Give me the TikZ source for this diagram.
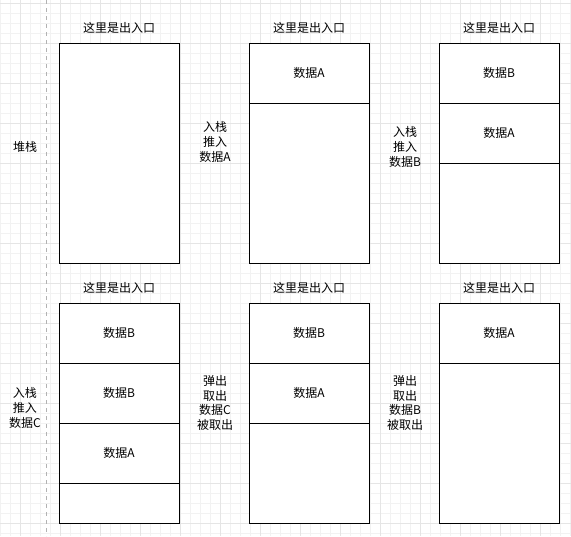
\documentclass[tikz,border=0pt]{standalone}
\usepackage{fontspec}
\setmainfont{Noto Sans CJK SC}
\usetikzlibrary{positioning}
\definecolor{gridminor}{HTML}{F2F2F2}
\definecolor{gridmajor}{HTML}{E5E5E5}

\begin{document}
\begin{tikzpicture}[x=0.75pt,y=-0.75pt,font=\fontsize{9}{11}\selectfont]
  \tikzstyle{stack}=[draw,fill=white,line width=0.75pt,minimum width=90pt,minimum height=165pt,inner sep=0pt,outer sep=0pt]
  \tikzstyle{cell}=[draw,fill=white,line width=0.75pt,minimum width=90pt,minimum height=45pt,inner sep=0pt,outer sep=0pt]
  \tikzstyle{op}=[align=center,inner sep=0pt]
  \useasboundingbox (0,0) rectangle (571,536);

  % grid
  \foreach \x in {0,10,...,570} \draw[gridminor] (\x,0) -- (\x,536);
  \foreach \y in {3,13,...,533} \draw[gridminor] (0,\y) -- (571,\y);
  \foreach \x in {20,60,...,560} \draw[gridmajor] (\x,0) -- (\x,536);
  \foreach \y in {3,43,...,523} \draw[gridmajor] (0,\y) -- (571,\y);
  \draw[gray!60,dashed] (46,0) -- (46,536);

  % top row
  \node[stack] (s1) at (119,153) {};
  \node[stack] (s2) at (309,153) {};
  \node[stack] (s3) at (499,153) {};
  \node[cell,anchor=north] (a2) at (s2.north) {数据A};
  \node[cell,anchor=north] (b3) at (s3.north) {数据B};
  \node[cell,below=0pt of b3] (a3) {数据A};

  % bottom row
  \node[stack] (s4) at (119,413) {};
  \node[stack] (s5) at (309,413) {};
  \node[stack] (s6) at (499,413) {};
  \node[cell,anchor=north] (c4) at (s4.north) {数据B};
  \node[cell,below=0pt of c4] (b4) {数据B};
  \node[cell,below=0pt of b4] (a4) {数据A};
  \node[cell,anchor=north] (b5) at (s5.north) {数据B};
  \node[cell,below=0pt of b5] (a5) {数据A};
  \node[cell,anchor=north] (a6) at (s6.north) {数据A};

  % titles
  \foreach \s in {s1,s2,s3,s4,s5,s6}
    \node (t\s) at ([yshift=11.5pt]\s.north) {这里是出入口};

  % operations
  \node[op] (heap) at (25,147) {堆栈};
  \node[op] (pushA) at (215,142) {入栈\\推入\\数据A};
  \node[op] (pushB) at (405,147) {入栈\\推入\\数据B};
  \node[op] (pushC) at (25,408) {入栈\\推入\\数据C};
  \node[op] (popC) at (215,403) {弹出\\取出\\数据C\\被取出};
  \node[op] (popB) at (405,403) {弹出\\取出\\数据B\\被取出};
\end{tikzpicture}
\end{document}
